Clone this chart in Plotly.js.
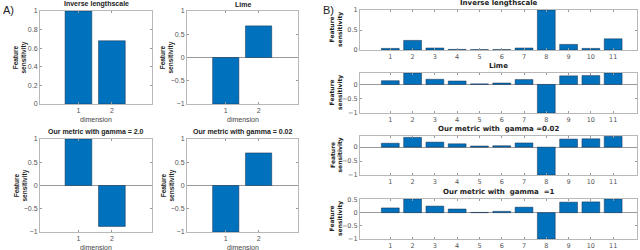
<!DOCTYPE html>
<html><head><meta charset="utf-8">
<script src="https://cdn.plot.ly/plotly-3.0.1.min.js"></script>
<style>html,body{margin:0;padding:0;background:#fff}#c{width:640px;height:250px}</style>
</head><body><div id="c"></div>
<script>
// ---- data ----
const dims = [1, 2];
const invLenA = [1.0, 0.68];
const limeA = [-1.0, 0.68];
const gamma20A = [1.0, -0.88];
const gamma002A = [-1.0, 0.70];

const feats = [1,2,3,4,5,6,7,8,9,10,11];
const invLenB = [0.04, 0.24, 0.05, 0.015, 0.01, 0.01, 0.05, 1.0, 0.14, 0.04, 0.28];
const limeB = [0.13, 0.40, 0.18, 0.12, 0.02, 0.05, 0.17, -1.0, 0.30, 0.31, 0.40];
const gamma002B = [0.14, 0.35, 0.18, 0.12, 0.04, 0.05, 0.15, -1.0, 0.29, 0.30, 0.39];
const gamma1B = [0.18, 0.52, 0.25, 0.14, 0.01, 0.05, 0.21, -1.0, 0.40, 0.41, 0.52];

const titlesA = ['Inverse lengthscale', 'Lime', 'Our metric with gamma = 2.0', 'Our metric with gamma = 0.02'];
const titlesB = ['Inverse lengthscale', 'Lime', 'Our metric with  gamma =0.02', 'Our metric with  gamma  =1'];

// ---- layout helpers ----
const W = 640, H = 250;
const px = x => x / W;
const py = y => 1 - y / H;
const BLUE = '#0072BD';
const fontA = 'Liberation Sans, Arial, sans-serif';
const fontB = 'DejaVu Sans, sans-serif';

const panels = [
  {x:dims, y:invLenA, box:[40,152,11,104], xr:[-0.15,3.2], yr:[0,1], yt:[0,0.2,0.4,0.6,0.8,1], title:titlesA[0], xl:'dimension', f:fontA, A:true},
  {x:dims, y:limeA, box:[187,298,11,104], xr:[-0.18,3.2], yr:[-1,1], yt:[-1,-0.5,0,0.5,1], title:titlesA[1], xl:'dimension', f:fontA, A:true},
  {x:dims, y:gamma20A, box:[40,152,139,232], xr:[-0.15,3.2], yr:[-1,1], yt:[-1,-0.5,0,0.5,1], title:titlesA[2], xl:'dimension', f:fontA, A:true},
  {x:dims, y:gamma002A, box:[187,298,139,232], xr:[-0.18,3.2], yr:[-1,1], yt:[-1,-0.5,0,0.5,1], title:titlesA[3], xl:'dimension', f:fontA, A:true},
  {x:feats, y:invLenB, box:[360,637,10,50], xr:[-0.36,12.07], yr:[0,1], yt:[0,0.5,1], title:titlesB[0], f:fontB},
  {x:feats, y:limeB, box:[360,637,73,113], xr:[-0.36,12.07], yr:[-1,0.4], yt:[-1,-0.5,0], title:titlesB[1], f:fontB},
  {x:feats, y:gamma002B, box:[360,637,136,175], xr:[-0.36,12.07], yr:[-1,0.4], yt:[-1,-0.5,0], title:titlesB[2], f:fontB},
  {x:feats, y:gamma1B, box:[360,637,199,239], xr:[-0.36,12.07], yr:[-1,0.52], yt:[-1,-0.5,0,0.5], title:titlesB[3], f:fontB},
];

const data = [];
const layout = {
  width: W, height: H, margin:{l:0,r:0,t:0,b:0}, showlegend:false,
  paper_bgcolor:'#fff', plot_bgcolor:'#fff', bargap:0.2, annotations:[]
};

panels.forEach((p, i) => {
  const n = i + 1;
  const xa = 'xaxis' + (n === 1 ? '' : n), ya = 'yaxis' + (n === 1 ? '' : n);
  data.push({type:'bar', x:p.x, y:p.y, width:0.8, xaxis:'x'+(n===1?'':n), yaxis:'y'+(n===1?'':n),
    marker:{color:BLUE, line:{color:'rgba(20,40,70,0.8)', width:0.6}}, hoverinfo:'none'});
  const [x0,x1,y0,y1] = p.box;
  const common = {showline:true, linecolor:'#b8b8b8', linewidth:1, mirror:'ticks', ticks:'inside',
    ticklen:2, tickcolor:'#999', showgrid:false, tickfont:{size:p.A?7:6.5, color:'#555', family:p.f}, fixedrange:true};
  layout[xa] = Object.assign({}, common, {domain:[px(x0),px(x1)], range:p.xr, tickvals:p.x,
    anchor:'y'+(n===1?'':n), zeroline:false});
  layout[ya] = Object.assign({}, common, {domain:[py(y1),py(y0)], range:p.yr, tickvals:p.yt,
    anchor:'x'+(n===1?'':n), zeroline:true, zerolinecolor:'#9a9a9a', zerolinewidth:1});
  // title
  layout.annotations.push({text:'<b>'+p.title+'</b>', xref:'paper', yref:'paper', x:px((x0+x1)/2),
    y:py(y0-1), xanchor:'center', yanchor:'bottom', showarrow:false,
    font:{size:p.A?7:7, color:'#222', family:p.f}});
  // y label
  layout.annotations.push({text:'<b>Feature<br>sensitivity</b>', xref:'paper', yref:'paper',
    x:px(p.A ? x0-20 : x0-24), y:py((y0+y1)/2), xanchor:'center', yanchor:'middle', textangle:-90,
    showarrow:false, font:{size:p.A?6.5:6, color:'#222', family:p.f}});
  if (p.xl) {
    layout.annotations.push({text:p.xl, xref:'paper', yref:'paper', x:px((x0+x1)/2), y:py(y1+10),
      xanchor:'center', yanchor:'top', showarrow:false, font:{size:7, color:'#444', family:p.f}});
  }
});

layout.annotations.push({text:'A)', xref:'paper', yref:'paper', x:px(1), y:py(2), xanchor:'left', yanchor:'top',
  showarrow:false, font:{size:11, color:'#222', family:fontA}});
layout.annotations.push({text:'B)', xref:'paper', yref:'paper', x:px(321), y:py(2), xanchor:'left', yanchor:'top',
  showarrow:false, font:{size:11, color:'#222', family:fontA}});

Plotly.newPlot('c', data, layout, {staticPlot:true, displayModeBar:false});
</script></body></html>
